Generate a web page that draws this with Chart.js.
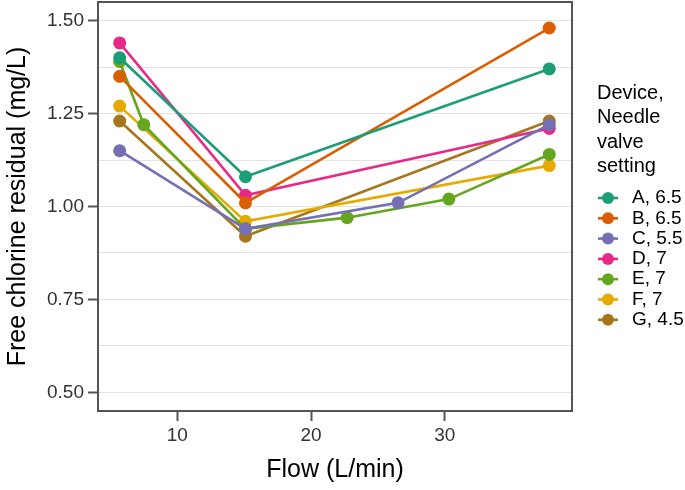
<!DOCTYPE html>
<html>
<head>
<meta charset="utf-8">
<script src="https://cdn.jsdelivr.net/npm/chart.js@4"></script>
<style>
  body { margin: 0; background: #fff; }
  #wrap { width: 685px; height: 490px; }
</style>
</head>
<body>
<div id="wrap"><canvas id="chart" width="685" height="490"></canvas></div>
<script>
// Device labels (device, needle valve setting)
const devices = ['A, 6.5', 'B, 6.5', 'C, 5.5', 'D, 7', 'E, 7', 'F, 7', 'G, 4.5'];

// Flow (L/min) and free chlorine residual (mg/L) per device
const flowA = [5.7, 15.1, 37.8];
const residualA = [1.40, 1.08, 1.37];
const flowB = [5.7, 15.1, 37.8];
const residualB = [1.35, 1.01, 1.48];
const flowC = [5.7, 15.1, 26.5, 37.8];
const residualC = [1.15, 0.94, 1.01, 1.22];
const flowD = [5.7, 15.1, 37.8];
const residualD = [1.44, 1.03, 1.21];
const flowE = [5.7, 7.5, 15.1, 22.7, 30.3, 37.8];
const residualE = [1.39, 1.22, 0.94, 0.97, 1.02, 1.14];
const flowF = [5.7, 15.1, 37.8];
const residualF = [1.27, 0.96, 1.11];
const flowG = [5.7, 15.1, 37.8];
const residualG = [1.23, 0.92, 1.23];

// Axis ticks
const xTicks = [10, 20, 30];
const yMajor = [0.50, 0.75, 1.00, 1.25, 1.50];
const yTickLabels = ['0.50', '0.75', '1.00', '1.25', '1.50'];
const yMinor = [0.625, 0.875, 1.125, 1.375];

// Dark2 palette
const palette = ['#1B9E77', '#D95F02', '#7570B3', '#E7298A', '#66A61E', '#E6AB02', '#A6761D'];

const flows = [flowA, flowB, flowC, flowD, flowE, flowF, flowG];
const residuals = [residualA, residualB, residualC, residualD, residualE, residualF, residualG];

Chart.defaults.font.family = '"Liberation Sans", Arial, Helvetica, sans-serif';

const datasets = devices.map((label, i) => ({
  label,
  data: flows[i].map((x, j) => ({ x, y: residuals[i][j] })),
  borderColor: palette[i],
  backgroundColor: palette[i],
  borderWidth: 2.6,
  pointRadius: 6.5,
  pointBorderWidth: 0,
  pointHoverRadius: 6.5,
  tension: 0
}));

// Panel border on all four sides
const panelBorder = {
  id: 'panelBorder',
  beforeDatasetsDraw(chart) {
    const { ctx, chartArea: a } = chart;
    ctx.save();
    ctx.strokeStyle = '#555';
    ctx.lineWidth = 2;
    ctx.strokeRect(a.left, a.top, a.right - a.left, a.bottom - a.top);
    ctx.restore();
  }
};

// ggplot-style legend on the right
const sideLegend = {
  id: 'sideLegend',
  afterDraw(chart) {
    const { ctx } = chart;
    const titleLines = ['Device,', 'Needle', 'valve', 'setting'];
    ctx.save();
    ctx.fillStyle = '#000';
    ctx.textBaseline = 'middle';
    ctx.textAlign = 'left';
    ctx.font = '20px "Liberation Sans", Arial, sans-serif';
    titleLines.forEach((t, i) => ctx.fillText(t, 597, 93 + i * 24.6));

    ctx.font = '19px "Liberation Sans", Arial, sans-serif';
    chart.data.datasets.forEach((ds, i) => {
      const y = 198 + i * 20.3;
      ctx.strokeStyle = ds.borderColor;
      ctx.lineWidth = 2.6;
      ctx.beginPath();
      ctx.moveTo(598, y);
      ctx.lineTo(618, y);
      ctx.stroke();
      ctx.fillStyle = ds.backgroundColor;
      ctx.beginPath();
      ctx.arc(608, y, 6, 0, Math.PI * 2);
      ctx.fill();
      ctx.fillStyle = '#000';
      ctx.fillText(ds.label, 632, y);
    });
    ctx.restore();
  }
};

new Chart(document.getElementById('chart'), {
  type: 'line',
  data: { datasets },
  plugins: [panelBorder, sideLegend],
  options: {
    responsive: false,
    animation: false,
    layout: { autoPadding: false, padding: { top: 2, right: 113, bottom: 0, left: 0 } },
    scales: {
      x: {
        type: 'linear',
        min: 4.08,
        max: 39.5,
        afterBuildTicks: scale => { scale.ticks = xTicks.map(v => ({ value: v })); },
        afterFit: scale => {
          scale.height = 79;
          scale.paddingLeft = 0;
          scale.paddingRight = 0;
        },
        ticks: {
          color: '#333',
          font: { size: 19 },
          padding: 3,
          maxRotation: 0
        },
        grid: {
          drawOnChartArea: false,
          tickLength: 10,
          tickWidth: 2,
          tickColor: '#555'
        },
        border: { display: false },
        title: {
          display: true,
          text: 'Flow (L/min)',
          color: '#000',
          font: { size: 25 },
          padding: { top: 0, bottom: 5 }
        }
      },
      y: {
        type: 'linear',
        min: 0.45,
        max: 1.55,
        afterBuildTicks: scale => {
          scale.ticks = [...yMajor, ...yMinor].sort((a, b) => a - b).map(v => ({ value: v }));
        },
        afterFit: scale => {
          scale.width = 98;
          scale.paddingTop = 0;
          scale.paddingBottom = 0;
        },
        ticks: {
          color: '#333',
          font: { size: 19 },
          padding: 4,
          callback: value => {
            const idx = yMajor.indexOf(value);
            return idx >= 0 ? yTickLabels[idx] : '';
          }
        },
        grid: {
          color: '#e3e3e3',
          lineWidth: 1,
          tickLength: 10,
          tickWidth: 2,
          tickColor: ctx => yMajor.includes(ctx.tick.value) ? '#555' : 'rgba(0,0,0,0)'
        },
        border: { display: false },
        title: {
          display: true,
          text: 'Free chlorine residual (mg/L)',
          color: '#000',
          font: { size: 25 },
          padding: { top: 3, bottom: 0 }
        }
      }
    },
    plugins: {
      legend: { display: false },
      tooltip: { enabled: false }
    }
  }
});
</script>
</body>
</html>
